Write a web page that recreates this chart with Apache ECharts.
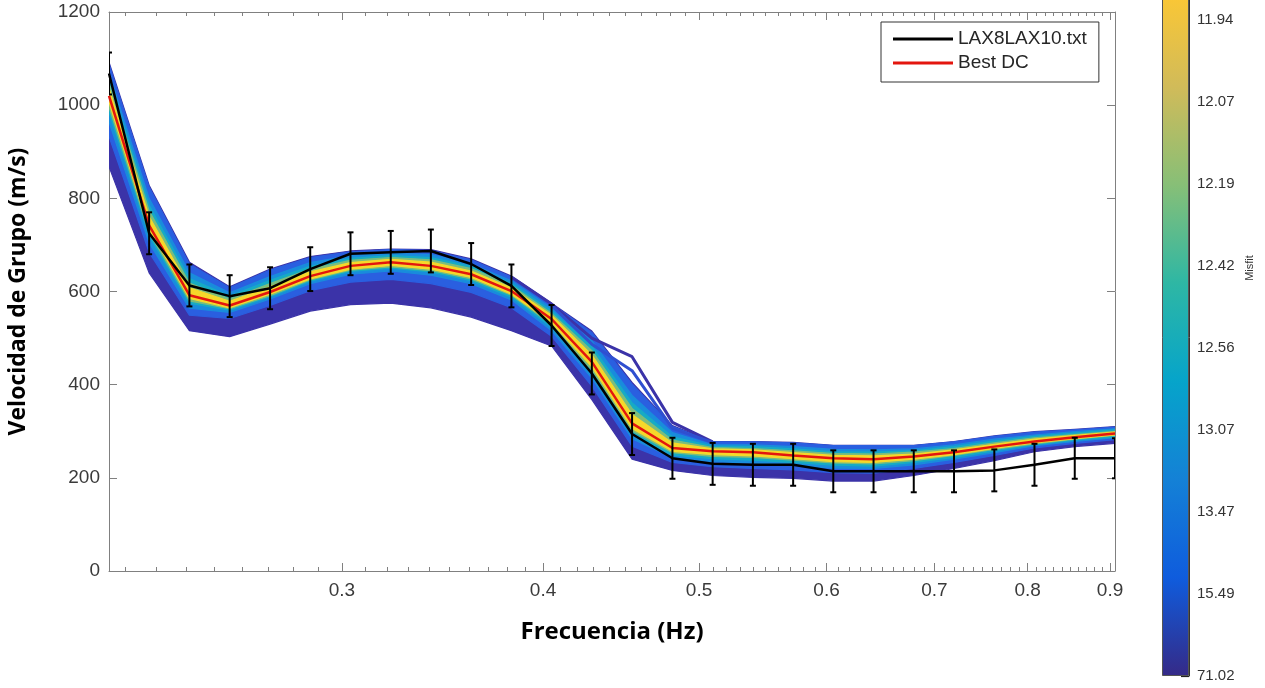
<!DOCTYPE html>
<html><head><meta charset="utf-8">
<script src="https://cdn.jsdelivr.net/npm/echarts@6/dist/echarts.min.js"></script>
<style>html,body{margin:0;padding:0;background:#fff}#chart{width:1265px;height:688px}</style>
</head><body><div id="chart"></div>
<script>
// ---------- data ----------
const freqHz = [0.2150,0.2277,0.2412,0.2555,0.2707,0.2867,0.3037,0.3217,0.3407,0.3609,0.3823,0.4049,0.4289,0.4543,0.4813,0.5098,0.5400,0.5720,0.6058,0.6417,0.6797,0.7200,0.7627,0.8078,0.8557,0.9064];
const observed = [1068,725,613,590,607,648,681,684,687,659,612,527,424,294,242,230,228,228,214,214,214,214,216,228,242,242];
const obsError = [45,45,45,45,45,47,46,46,46,45,46,44,45,45,44,45,45,45,45,45,45,45,45,45,44,43];
const bestDC   = [1020,742,592,570,599,633,655,663,655,637,601,541,449,317,264,257,255,248,242,240,246,255,267,278,287,295];

// misfit envelopes of the inverted models (upper / lower edge of each colour level)
const purpleUp = [1092,828,663,610,648,675,687,691,690,670,633,575,515,405,312,278,278,276,270,270,270,278,290,299,304,310];
const purpleLo = [868,640,516,503,530,558,572,575,565,545,516,483,368,240,216,205,201,199,193,193,205,220,237,256,267,274];
const blueUp   = [1088,824,659,608,646,673,685,690,688,668,631,573,512,401,310,277,277,275,269,269,269,277,289,298,303,309];
const blueLo   = [933,684,549,542,570,602,620,626,617,598,565,504,397,268,233,224,220,217,211,210,220,233,248,264,274,282];
const lightUp  = [1069,800,640,597,632,662,677,682,679,659,623,564,494,377,297,271,271,267,261,260,262,271,283,292,299,305];
const lightLo  = [964,704,564,555,584,617,637,644,635,617,582,516,414,284,243,235,232,227,221,220,228,240,254,269,278,286];
const cyanUp   = [1056,785,628,590,624,654,671,677,673,654,617,558,482,361,288,268,267,262,256,255,258,267,279,289,296,303];
const cyanLo   = [985,719,575,560,589,622,643,650,642,623,588,523,424,293,249,241,238,233,227,225,233,244,258,271,281,288];
const greenUp  = [1046,773,618,584,617,648,667,673,668,649,613,553,473,349,281,265,263,258,252,251,255,263,275,286,293,300];
const greenLo  = [996,726,580,563,591,625,646,653,645,627,592,529,432,301,254,246,244,238,232,230,237,248,261,273,283,291];
const yellowUp = [1036,761,608,579,610,642,662,669,663,644,608,549,464,336,275,262,260,254,248,247,251,260,272,283,291,298];
const yellowLo = [1006,733,585,565,594,627,648,656,648,630,594,533,438,306,257,250,247,241,235,233,240,250,263,275,284,292];
const outlierA = [null,null,null,null,null,null,null,null,null,null,631,573,500,460,319,277,null,null,null,null,null,null,null,null,null,null];
const outlierB = [null,null,null,null,null,null,null,null,null,null,null,570,487,430,306,276,null,null,null,null,null,null,null,null,null,null];

const xTickValues = [0.3,0.4,0.5,0.6,0.7,0.8,0.9];
const xTickLabels = ['0.3','0.4','0.5','0.6','0.7','0.8','0.9'];
const cbTickLabels = ['71.02','15.49','13.47','13.07','12.56','12.42','12.19','12.07','11.94'];
const parula = ['#352a87','#0f5cdd','#1481d6','#06a4ca','#2eb7a4','#87bf77','#d1bb59','#fec832','#f9fb0e'];

// ---------- helpers ----------
const lx = f => Math.log10(f);
const minorTicks = [];
for (let i = 22; i <= 90; i++) if (i % 10) minorTicks.push(lx(i / 100));
const majorTicks = xTickValues.map(lx);
const xMin = lx(freqHz[0]), xMax = lx(freqHz[freqHz.length - 1]);
const axisGrey = '#808080';
const labelFont = 'Liberation Sans, Arial, sans-serif';

function band(name, up, lo, color) {
  return {
    type: 'custom', name, xAxisIndex: 0, yAxisIndex: 0, silent: true, clip: true,
    data: [[lx(freqHz[0]), up[0]]],
    renderItem(params, api) {
      const pts = [];
      for (let i = 0; i < freqHz.length; i++) pts.push(api.coord([lx(freqHz[i]), up[i]]));
      for (let i = freqHz.length - 1; i >= 0; i--) pts.push(api.coord([lx(freqHz[i]), lo[i]]));
      return { type: 'polygon', shape: { points: pts },
        style: { fill: color, stroke: color, lineWidth: 1.2, lineJoin: 'round' } };
    }
  };
}
function pairs(vals) {
  return freqHz.map((f, i) => [lx(f), vals[i] == null ? '-' : vals[i]]);
}

const chart = echarts.init(document.getElementById('chart'), null, { renderer: 'canvas' });
const mkX = (pos, ticks, len, showLine, labels) => ({
  type: 'value', gridIndex: 0, position: pos, min: xMin, max: xMax,
  axisLine: { show: showLine, onZero: false, lineStyle: { color: axisGrey, width: 1 } },
  axisTick: { show: true, inside: true, length: len, customValues: ticks, lineStyle: { color: axisGrey } },
  axisLabel: labels ? {
    show: true, customValues: majorTicks, margin: 10, fontSize: 19, color: '#3a3a3a', fontFamily: labelFont,
    formatter: v => { const k = majorTicks.findIndex(t => Math.abs(t - v) < 1e-6); return k >= 0 ? xTickLabels[k] : ''; }
  } : { show: false },
  splitLine: { show: false }
});

const option = {
  animation: false,
  backgroundColor: '#ffffff',
  textStyle: { fontFamily: labelFont },
  grid: [
    { left: 109, top: 12, width: 1006, height: 559, outerBoundsMode: 'none', containLabel: false },
    { left: 1162, top: -110, width: 27, height: 786, outerBoundsMode: 'none', containLabel: false }
  ],
  xAxis: [
    Object.assign(mkX('bottom', majorTicks, 8, true, true), {
      name: 'Frecuencia (Hz)', nameLocation: 'middle', nameGap: 49,
      nameTextStyle: { fontFamily: 'Open Sans', fontWeight: 'bold', fontSize: 24, color: '#000' }
    }),
    mkX('bottom', minorTicks, 4, false, false),
    mkX('top', majorTicks, 8, true, false),
    mkX('top', minorTicks, 4, false, false),
    { type: 'category', gridIndex: 1, data: ['misfit'], show: false }
  ],
  yAxis: [
    { type: 'value', gridIndex: 0, position: 'left', min: 0, max: 1200, interval: 200,
      axisLine: { show: true, lineStyle: { color: axisGrey } },
      axisTick: { show: true, inside: true, length: 8, lineStyle: { color: axisGrey } },
      axisLabel: { fontSize: 19, color: '#3a3a3a', margin: 9, fontFamily: labelFont, formatter: v => String(v) },
      splitLine: { show: false },
      name: 'Velocidad de Grupo (m/s)', nameLocation: 'middle', nameGap: 79,
      nameTextStyle: { fontFamily: 'Open Sans', fontWeight: 'bold', fontSize: 23, color: '#000' } },
    { type: 'value', gridIndex: 0, position: 'right', min: 0, max: 1200, interval: 200,
      axisLine: { show: true, lineStyle: { color: axisGrey } },
      axisTick: { show: true, inside: true, length: 8, lineStyle: { color: axisGrey } },
      axisLabel: { show: false }, splitLine: { show: false } },
    { type: 'value', gridIndex: 1, position: 'right', min: 0, max: 786 / 82,
      axisLine: { show: true, lineStyle: { color: '#333', width: 1 } },
      axisTick: { show: true, inside: true, length: 8, customValues: [0,1,2,3,4,5,6,7,8], lineStyle: { color: '#222', width: 1.2 } },
      axisLabel: { show: true, customValues: [0,1,2,3,4,5,6,7,8], margin: 8, fontSize: 15, color: '#333',
        fontFamily: labelFont, formatter: v => cbTickLabels[Math.round(v)] || '' },
      splitLine: { show: false } }
  ],
  legend: {
    data: [{ name: 'LAX8LAX10.txt', icon: 'rect' }, { name: 'Best DC', icon: 'rect' }],
    orient: 'vertical', left: 881, top: 22,
    itemWidth: 60, itemHeight: 3, itemGap: 4,
    padding: [7, 12, 9, 12],
    borderColor: '#333', borderWidth: 1, backgroundColor: '#fff',
    textStyle: { fontSize: 19, color: '#262626', fontFamily: labelFont, lineHeight: 20 }
  },
  graphic: [
    { type: 'text', x: 1250, y: 268, rotation: Math.PI / 2,
      style: { text: 'Misfit', fontSize: 11, fill: '#333', align: 'center', verticalAlign: 'middle', fontFamily: labelFont } }
  ],
  series: [
    band('p', purpleUp, purpleLo, '#3b33a8'),
    { type: 'line', name: 'oa', data: pairs(outlierA), xAxisIndex: 0, yAxisIndex: 0, symbol: 'none', silent: true,
      lineStyle: { color: '#3b33a8', width: 3 } },
    { type: 'line', name: 'ob', data: pairs(outlierB), xAxisIndex: 0, yAxisIndex: 0, symbol: 'none', silent: true,
      lineStyle: { color: '#2f4fd0', width: 3 } },
    band('b', blueUp, blueLo, '#2a5fe0'),
    band('l', lightUp, lightLo, '#198cdc'),
    band('c', cyanUp, cyanLo, '#17abc4'),
    band('g', greenUp, greenLo, '#7cbd7c'),
    band('y', yellowUp, yellowLo, '#f6d82a'),
    { type: 'line', name: 'Best DC', data: pairs(bestDC), xAxisIndex: 0, yAxisIndex: 0, symbol: 'none',
      itemStyle: { color: '#e3160e' }, lineStyle: { color: '#e3160e', width: 2.5 }, z: 3 },
    { type: 'line', name: 'LAX8LAX10.txt', data: pairs(observed), xAxisIndex: 0, yAxisIndex: 0, symbol: 'none',
      itemStyle: { color: '#000' }, lineStyle: { color: '#000', width: 2.5 }, z: 4 },
    { type: 'custom', name: 'err', xAxisIndex: 0, yAxisIndex: 0, silent: true, clip: true, z: 4,
      data: freqHz.map((f, i) => [lx(f), observed[i] - obsError[i], observed[i] + obsError[i]]),
      encode: { x: 0, y: [1, 2] },
      renderItem(params, api) {
        const x = api.value(0);
        const lo = api.coord([x, api.value(1)]);
        const hi = api.coord([x, api.value(2)]);
        const c = 3, st = { stroke: '#000', lineWidth: 2 };
        return { type: 'group', children: [
          { type: 'line', shape: { x1: lo[0], y1: lo[1], x2: hi[0], y2: hi[1] }, style: st },
          { type: 'line', shape: { x1: lo[0] - c, y1: lo[1], x2: lo[0] + c, y2: lo[1] }, style: st },
          { type: 'line', shape: { x1: hi[0] - c, y1: hi[1], x2: hi[0] + c, y2: hi[1] }, style: st }
        ] };
      } },
    { type: 'bar', name: 'colorbar', xAxisIndex: 4, yAxisIndex: 2, data: [786 / 82], barWidth: '100%', silent: true,
      itemStyle: { color: new echarts.graphic.LinearGradient(0, 1, 0, 0,
        parula.map((c, i) => ({ offset: i / (parula.length - 1), color: c }))), borderColor: '#555', borderWidth: 1 } }
  ]
};
chart.setOption(option);
</script></body></html>
